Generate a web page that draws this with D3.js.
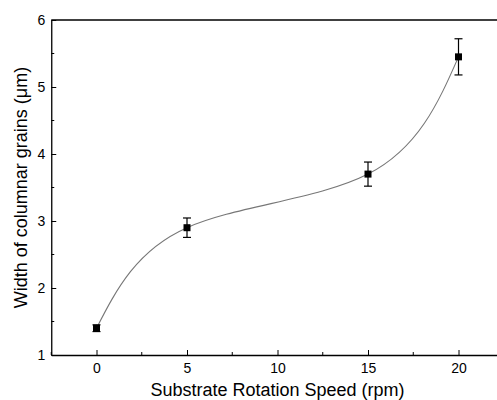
<!DOCTYPE html>
<html><head><meta charset="utf-8">
<script src="https://cdn.jsdelivr.net/npm/d3@7"></script>
<style>body{margin:0;background:#fff}svg{display:block}text{font-family:"Liberation Sans",Arial,sans-serif}</style>
</head><body>
<script>
const speeds = [0, 5, 15, 20];
const widths = [1.40, 2.90, 3.70, 5.45];
const errors = [0.05, 0.145, 0.18, 0.27];
const xTicks = [0, 5, 10, 15, 20];
const yTicks = [1, 2, 3, 4, 5, 6];
const xMinor = [-2.5, 2.5, 7.5, 12.5, 17.5, 22.5];
const yMinor = [1.5, 2.5, 3.5, 4.5, 5.5];

const W = 497, H = 400;
const svg = d3.select("body").append("svg").attr("width", W).attr("height", H);
const x = d3.scaleLinear().domain([-2.5, 22.5]).range([51.25, 503.75]);
const y = d3.scaleLinear().domain([1, 6]).range([355, 20]);

const data = speeds.map((s, i) => ({x: s, y: widths[i], e: errors[i]}));

// frame
svg.append("line").attr("x1", x(-2.5)).attr("x2", x(22.5)).attr("y1", y(6)).attr("y2", y(6)).attr("stroke", "#000").attr("stroke-width", 1.3);
svg.append("line").attr("x1", x(22.5)).attr("x2", x(22.5)).attr("y1", y(6)).attr("y2", y(1)).attr("stroke", "#000").attr("stroke-width", 1.3);

const xAxis = svg.append("g").attr("transform", `translate(0,${y(1)})`)
  .call(d3.axisBottom(x).tickValues(xTicks).tickFormat(d3.format("d")).tickSizeInner(-5).tickSizeOuter(0).tickPadding(8));
xMinor.forEach(v => xAxis.append("line").attr("x1", x(v)).attr("x2", x(v)).attr("y1", 0).attr("y2", -3).attr("stroke", "#000"));
const yAxis = svg.append("g").attr("transform", `translate(${x(-2.5)},0)`)
  .call(d3.axisLeft(y).tickValues(yTicks).tickFormat(d3.format("d")).tickSizeInner(-5).tickSizeOuter(0).tickPadding(6));
yMinor.forEach(v => yAxis.append("line").attr("x1", 0).attr("x2", 3).attr("y1", y(v)).attr("y2", y(v)).attr("stroke", "#000"));
[xAxis, yAxis].forEach(a => {
  a.select(".domain").attr("stroke-width", 1.3);
  a.selectAll("text").attr("font-size", 14).attr("fill", "#000").style("font-family", '"Liberation Sans",Arial,sans-serif');
});

// curve
svg.append("path").datum(data)
  .attr("d", d3.line().x(d => x(d.x)).y(d => y(d.y)).curve(d3.curveNatural))
  .attr("fill", "none").attr("stroke", "#777").attr("stroke-width", 1.1);

// error bars
const eb = svg.append("g").attr("stroke", "#000").attr("stroke-width", 1.2);
data.forEach(d => {
  eb.append("line").attr("x1", x(d.x)).attr("x2", x(d.x)).attr("y1", y(d.y - d.e)).attr("y2", y(d.y + d.e));
  eb.append("line").attr("x1", x(d.x) - 4).attr("x2", x(d.x) + 4).attr("y1", y(d.y - d.e)).attr("y2", y(d.y - d.e));
  eb.append("line").attr("x1", x(d.x) - 4).attr("x2", x(d.x) + 4).attr("y1", y(d.y + d.e)).attr("y2", y(d.y + d.e));
});
svg.append("g").selectAll("rect").data(data).join("rect")
  .attr("x", d => x(d.x) - 3.5).attr("y", d => y(d.y) - 3.5).attr("width", 7).attr("height", 7).attr("fill", "#000");

svg.append("text").attr("x", x(10)).attr("y", 396).attr("text-anchor", "middle").attr("font-size", 18).text("Substrate Rotation Speed (rpm)");
svg.append("text").attr("transform", `translate(27,${y(3.5)}) rotate(-90)`).attr("text-anchor", "middle").attr("font-size", 18).text("Width of columnar grains (μm)");
</script>
</body></html>
